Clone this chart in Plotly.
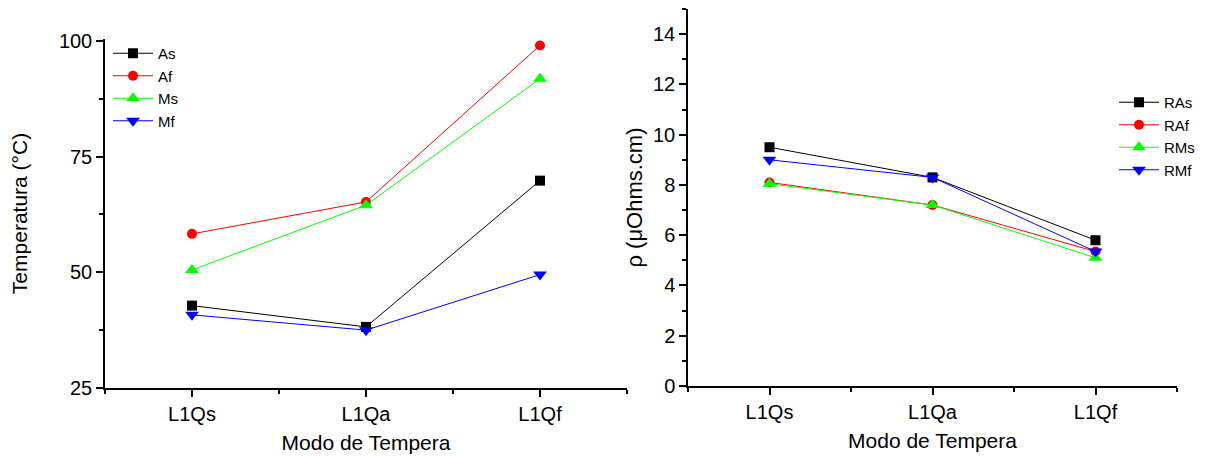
import plotly.graph_objects as go

categories = ["L1Qs", "L1Qa", "L1Qf"]
x_pos = [0, 1, 2]

# Left chart: temperatures (°C)
As = [42.8, 38.2, 69.8]
Af = [58.3, 65.2, 99.0]
Ms = [50.5, 64.5, 91.8]
Mf = [40.8, 37.5, 49.5]

# Right chart: resistivity (µOhms.cm)
RAs = [9.5, 8.3, 5.8]
RAf = [8.1, 7.2, 5.35]
RMs = [8.05, 7.2, 5.1]
RMf = [9.0, 8.3, 5.35]

FONT = "Liberation Sans, Arial, sans-serif"

left_series = [
    ("As", As, "black", "square", 10),
    ("Af", Af, "red", "circle", 10),
    ("Ms", Ms, "#00ff00", "triangle-up", 12),
    ("Mf", Mf, "blue", "triangle-down", 12),
]
right_series = [
    ("RAs", RAs, "black", "square", 10),
    ("RAf", RAf, "red", "circle", 10),
    ("RMs", RMs, "#00ff00", "triangle-up", 12),
    ("RMf", RMf, "blue", "triangle-down", 12),
]

fig = go.Figure()
for name, vals, col, sym, sz in left_series:
    fig.add_trace(go.Scatter(x=x_pos, y=vals, name=name, mode="lines+markers",
                             line=dict(color=col, width=1),
                             marker=dict(symbol=sym, size=sz, color=col, line=dict(width=0)),
                             xaxis="x", yaxis="y", legend="legend"))
for name, vals, col, sym, sz in right_series:
    fig.add_trace(go.Scatter(x=x_pos, y=vals, name=name, mode="lines+markers",
                             line=dict(color=col, width=1),
                             marker=dict(symbol=sym, size=sz, color=col, line=dict(width=0)),
                             xaxis="x2", yaxis="y2", legend="legend2"))

# page body has an 8px margin; paper coords = screen coords - 8
OFF = 8
W, H = 1205 - OFF, 456 - OFF

def xdom(a, b):
    return [(a - OFF) / W, (b - OFF) / W]

def ydom(top, bottom):
    return [(H - (bottom - OFF)) / H, (H - (top - OFF)) / H]

common_x = dict(range=[-0.5, 2.5], tickvals=x_pos, ticktext=categories, automargin=False,
                showline=True, linecolor="black", linewidth=1.5, ticks="outside",
                ticklen=7, tickwidth=1.5, tickcolor="black", showgrid=False, zeroline=False,
                tickfont=dict(family=FONT, size=20, color="black"),
                minor=dict(tickvals=[-0.5, 0.5, 1.5, 2.5], ticks="outside", ticklen=4,
                           tickwidth=1.5, tickcolor="black", showgrid=False),
                title=dict(text="Modo de Tempera", font=dict(family=FONT, size=21, color="black"),
                           standoff=12))
common_y = dict(showline=True, linecolor="black", linewidth=1.5, ticks="outside", automargin=False,
                ticklen=7, tickwidth=1.5, tickcolor="black", showgrid=False, zeroline=False,
                tickfont=dict(family=FONT, size=20, color="black"))

fig.update_layout(
    width=W, height=H,
    margin=dict(l=0, r=0, t=0, b=0),
    paper_bgcolor="white", plot_bgcolor="white",
    font=dict(family=FONT, color="black"),
    xaxis=dict(domain=xdom(105, 627), anchor="y", **common_x),
    yaxis=dict(domain=ydom(39, 388), anchor="x", range=[25, 100.4],
               tickvals=[25, 50, 75, 100],
               minor=dict(tickvals=[37.5, 62.5, 87.5], ticks="outside", ticklen=4,
                          tickwidth=1.5, tickcolor="black", showgrid=False),
               title=dict(text="Temperatura (°C)", font=dict(family=FONT, size=21, color="black"),
                          standoff=28),
               **common_y),
    xaxis2=dict(domain=xdom(688, 1177), anchor="y2", **common_x),
    yaxis2=dict(domain=ydom(9, 386), anchor="x2", range=[0, 15],
                tickvals=[0, 2, 4, 6, 8, 10, 12, 14],
                minor=dict(tickvals=[1, 3, 5, 7, 9, 11, 13, 15], ticks="outside", ticklen=4,
                           tickwidth=1.5, tickcolor="black", showgrid=False),
                title=dict(text="ρ (μOhms.cm)", font=dict(family=FONT, size=22, color="black"),
                           standoff=4),
                **common_y),
    legend=dict(x=100 / W, y=(H - 29) / H, xanchor="left", yanchor="top",
                bgcolor="rgba(0,0,0,0)", font=dict(family=FONT, size=15, color="black"),
                itemwidth=40, tracegroupgap=0),
    legend2=dict(x=1106 / W, y=(H - 78) / H, xanchor="left", yanchor="top",
                 bgcolor="rgba(0,0,0,0)", font=dict(family=FONT, size=15, color="black"),
                 itemwidth=40, tracegroupgap=0),
    showlegend=True,
)

fig.write_html("out.html")
